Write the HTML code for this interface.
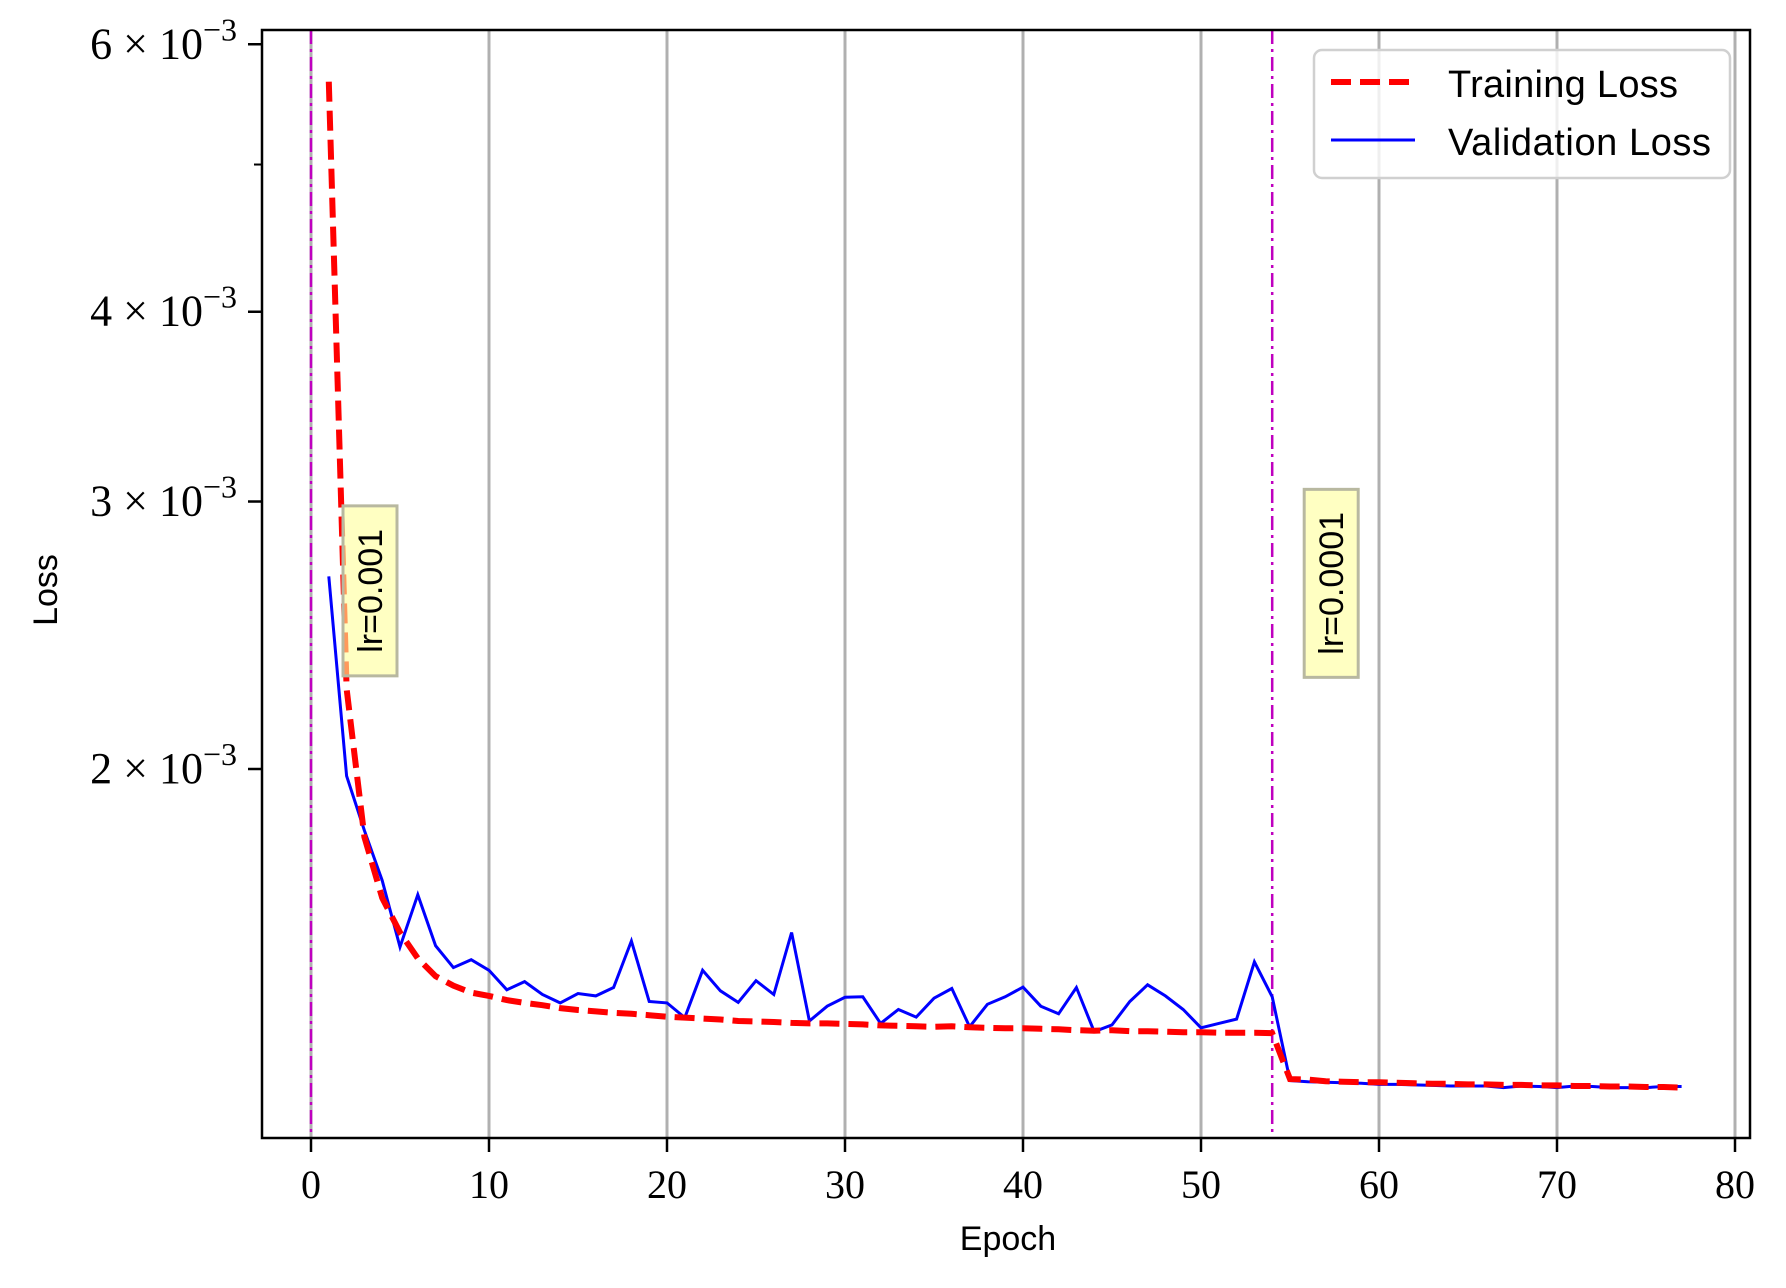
<!DOCTYPE html>
<html><head><meta charset="utf-8"><style>
body{margin:0;background:#fff}
svg{display:block}
.tick{font-family:"Liberation Serif",serif;font-size:40px}
.ytick{font-family:"Liberation Serif",serif;font-size:44px}
.sans{font-family:"Liberation Sans",sans-serif}
</style></head><body>
<svg id="chart" width="1786" height="1288" viewBox="0 0 1786 1288" xmlns="http://www.w3.org/2000/svg">
<rect x="0" y="0" width="1786" height="1288" fill="#fff"/>
<g id="grid"></g>
<g id="vlines"></g>
<g id="series"></g>
<g id="annots"></g>
<rect x="262" y="30" width="1488" height="1108" fill="none" stroke="#000" stroke-width="2.5"/>
<g id="axes"></g>
<text x="1008" y="1250" class="sans" font-size="34" text-anchor="middle">Epoch</text>
<text transform="translate(57,590) rotate(-90)" class="sans" font-size="34" text-anchor="middle">Loss</text>
<g>
<rect x="1314" y="50" width="416" height="128" rx="8" fill="#fff" fill-opacity="0.8" stroke="#d0d0d0" stroke-width="2.5"/>
<line x1="1331" y1="82" x2="1415" y2="82" stroke="#ff0000" stroke-width="6" stroke-dasharray="20,9"/>
<text x="1448" y="97" class="sans" font-size="38" textLength="230">Training Loss</text>
<line x1="1331" y1="140" x2="1415" y2="140" stroke="#0000ff" stroke-width="3"/>
<text x="1448" y="155" class="sans" font-size="38" textLength="263">Validation Loss</text>
</g>
</svg>
<script>
const epochs = [];
for (let i = 1; i <= 77; i++) epochs.push(i);
const trainLoss = [0.005669,0.002259,0.001804,0.001645,0.001561,0.001501,0.001461,0.001440,0.001425,0.001418,
0.001409,0.001403,0.001398,0.001392,0.001388,0.001385,0.001382,0.001380,0.001377,0.001374,
0.001372,0.001370,0.001368,0.001365,0.001364,0.001363,0.001361,0.001360,0.001360,0.001359,
0.001358,0.001356,0.001355,0.001354,0.001353,0.001354,0.001352,0.001351,0.001350,0.001350,
0.001349,0.001348,0.001346,0.001345,0.001346,0.001344,0.001344,0.001343,0.001342,0.001342,
0.001341,0.001341,0.001341,0.001340,0.001250,0.001249,0.001246,0.001245,0.001244,0.001244,
0.001243,0.001242,0.001241,0.001241,0.001240,0.001240,0.001239,0.001239,0.001238,0.001238,
0.001237,0.001237,0.001236,0.001236,0.001235,0.001235,0.001234];
const valLoss = [0.002678,0.001979,0.001822,0.001689,0.001527,0.001653,0.001530,0.001480,0.001498,0.001474,
0.001431,0.001449,0.001421,0.001403,0.001423,0.001418,0.001436,0.001541,0.001406,0.001403,
0.001372,0.001474,0.001429,0.001404,0.001451,0.001421,0.001561,0.001365,0.001396,0.001415,
0.001416,0.001360,0.001389,0.001373,0.001413,0.001434,0.001353,0.001400,0.001416,0.001437,
0.001396,0.001380,0.001436,0.001343,0.001357,0.001406,0.001442,0.001418,0.001389,0.001351,
0.001360,0.001369,0.001493,0.001416,0.001247,0.001245,0.001244,0.001243,0.001242,0.001240,
0.001240,0.001239,0.001238,0.001237,0.001237,0.001237,0.001234,0.001237,0.001236,0.001234,
0.001237,0.001236,0.001234,0.001234,0.001234,0.001236,0.001236];
const xTicks = [0,10,20,30,40,50,60,70,80];
const yTicks = [0.002,0.003,0.004,0.006];
const yTickLabels = ["2","3","4","6"];
const yMinorTicks = [0.005];
const lrEpochs = [0,54];
const lrLabels = ["lr=0.001","lr=0.0001"];
const lrLabelValues = [0.00262,0.00265];

const NS = "http://www.w3.org/2000/svg";
function xs(e){return 311 + 17.8*e;}
function ys(v){return 769 - 1519*Math.log10(v/0.002);}
function mk(tag, attrs, parent){const el=document.createElementNS(NS,tag);for(const k in attrs)el.setAttribute(k,attrs[k]);parent.appendChild(el);return el;}
const grid=document.getElementById('grid'), axes=document.getElementById('axes'), series=document.getElementById('series'), vl=document.getElementById('vlines'), an=document.getElementById('annots');

xTicks.forEach(t=>{
  const g=mk('line',{x1:xs(t),x2:xs(t),y1:30,y2:1138,stroke:'#b0b0b0','stroke-width':3},grid);
  
  
  const tk=mk('line',{x1:xs(t),x2:xs(t),y1:1138,y2:1152,stroke:'#000','stroke-width':2.5},axes);
  
  
  const tx=mk('text',{x:xs(t),y:1198,'text-anchor':'middle',class:'tick'},axes);
  tx.textContent=String(t);
  
  
});
yTicks.forEach((v,i)=>{
  const y=ys(v);
  const tk=mk('line',{x1:248,x2:262,y1:y,y2:y,stroke:'#000','stroke-width':2.5},axes);
  
  
  const tx=mk('text',{x:237,y:y+14,'text-anchor':'end',class:'ytick'},axes);
  
  
  const a=document.createElementNS(NS,'tspan');a.textContent=yTickLabels[i]+" \u00d7 10";tx.appendChild(a);
  const b=document.createElementNS(NS,'tspan');b.setAttribute('dy','-18');b.setAttribute('font-size','32');b.textContent="\u22123";tx.appendChild(b);
});
yMinorTicks.forEach(v=>{
  const tk=mk('line',{x1:254,x2:262,y1:ys(v),y2:ys(v),stroke:'#000','stroke-width':2},axes);
  
  
});
lrEpochs.forEach((e,i)=>{
  const l=mk('line',{x1:xs(e),x2:xs(e),y1:30,y2:1138,stroke:'#bf00bf','stroke-width':2.5,'stroke-dasharray':'14,5,3,5'},vl);
  
  
});
function pathFor(vals){return vals.map((v,i)=>(i?'L':'M')+xs(epochs[i]).toFixed(1)+','+ys(v).toFixed(1)).join(' ');}
const vp=mk('path',{d:pathFor(valLoss),fill:'none',stroke:'#0000ff','stroke-width':3,'stroke-linejoin':'miter'},series);


const tp=mk('path',{d:pathFor(trainLoss),fill:'none',stroke:'#ff0000','stroke-width':6,'stroke-dasharray':'20,9'},series);



lrEpochs.forEach((e,i)=>{
  const cx=xs(e)+59, cy=ys(lrLabelValues[i]);
  const w=54, h=(lrLabels[i].length*18)+26;
  const r=mk('rect',{x:cx-w/2,y:cy-h/2,width:w,height:h,fill:'#ffff99','fill-opacity':0.6,stroke:'#b8b8a0','stroke-width':3},an);
  
  
  const t=mk('text',{transform:`translate(${cx+12},${cy}) rotate(-90)`,'text-anchor':'middle',class:'sans','font-size':34},an);
  t.textContent=lrLabels[i];
  
  
});
</script>
</body></html>
